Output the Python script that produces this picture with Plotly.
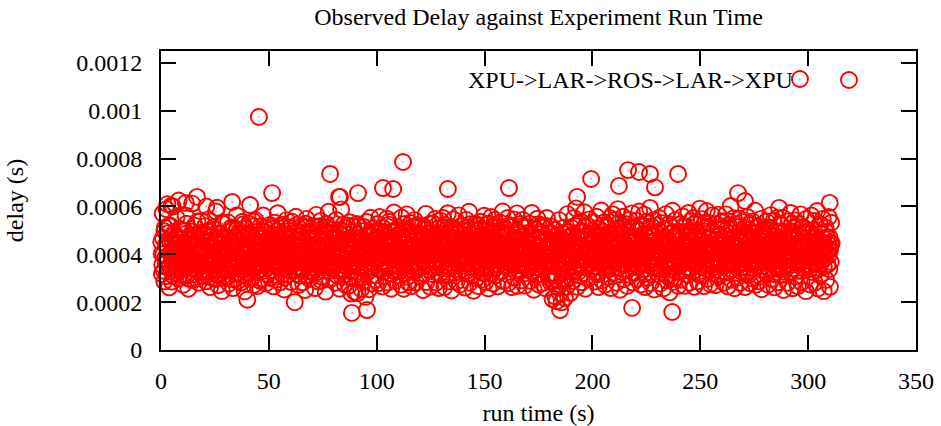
import plotly.graph_objects as go

# ---- data ----
# first pass of samples: run time (s), one row per 10 s block
run_time_s = [
    0.1,0.4,0.8,1.1,1.5,1.8,2.2,2.5,2.8,3.1,3.4,3.8,4.2,4.5,4.8,5.1,5.4,5.7,6.1,6.5,6.8,7.2,7.5,7.8,8.1,8.4,8.8,9.2,9.5,9.8,
    10.0,10.3,10.7,11.0,11.4,11.7,12.0,12.4,12.7,13.0,13.3,13.7,14.0,14.4,14.7,15.0,15.3,15.6,16.0,16.3,16.7,17.0,17.4,17.7,18.0,18.3,18.6,19.0,19.3,19.7,
    20.2,20.5,20.9,21.2,21.5,21.9,22.1,22.5,22.8,23.2,23.5,23.9,24.1,24.5,24.8,25.2,25.5,25.8,26.2,26.5,26.9,27.1,27.5,27.8,28.2,28.5,28.9,29.1,29.4,29.8,
    30.1,30.4,30.8,31.1,31.5,31.8,32.2,32.5,32.8,33.1,33.4,33.8,34.2,34.5,34.8,35.1,35.4,35.7,36.1,36.5,36.8,37.2,37.5,37.8,38.1,38.4,38.8,39.2,39.5,39.8,
    40.0,40.3,40.7,41.0,41.4,41.7,42.0,42.4,42.7,43.0,43.3,43.7,44.0,44.4,44.7,45.0,45.3,45.6,46.0,46.3,46.7,47.0,47.4,47.7,48.0,48.3,48.6,49.0,49.3,49.7,
    50.2,50.5,50.9,51.2,51.5,51.9,52.1,52.5,52.8,53.2,53.5,53.9,54.1,54.5,54.8,55.2,55.5,55.8,56.2,56.5,56.9,57.1,57.5,57.8,58.2,58.5,58.9,59.1,59.4,59.8,
    60.1,60.4,60.8,61.1,61.5,61.8,62.2,62.5,62.8,63.1,63.4,63.8,64.2,64.5,64.8,65.1,65.4,65.7,66.1,66.5,66.8,67.2,67.5,67.8,68.1,68.4,68.8,69.2,69.5,69.8,
    70.0,70.3,70.7,71.0,71.4,71.7,72.0,72.4,72.7,73.0,73.3,73.7,74.0,74.4,74.7,75.0,75.3,75.6,76.0,76.3,76.7,77.0,77.4,77.7,78.0,78.3,78.6,79.0,79.3,79.7,
    80.2,80.5,80.9,81.2,81.5,81.9,82.1,82.5,82.8,83.2,83.5,83.9,84.1,84.5,84.8,85.2,85.5,85.8,86.2,86.5,86.9,87.1,87.5,87.8,88.2,88.5,88.9,89.1,89.4,89.8,
    90.1,90.4,90.8,91.1,91.5,91.8,92.2,92.5,92.8,93.1,93.4,93.8,94.2,94.5,94.8,95.1,95.4,95.7,96.1,96.5,96.8,97.2,97.5,97.8,98.1,98.4,98.8,99.2,99.5,99.8,
    100.0,100.3,100.7,101.0,101.4,101.7,102.0,102.4,102.7,103.0,103.3,103.7,104.0,104.4,104.7,105.0,105.3,105.6,106.0,106.3,106.7,107.0,107.4,107.7,108.0,108.3,108.6,109.0,109.3,109.7,
    110.2,110.5,110.9,111.2,111.5,111.9,112.1,112.5,112.8,113.2,113.5,113.9,114.1,114.5,114.8,115.2,115.5,115.8,116.2,116.5,116.9,117.1,117.5,117.8,118.2,118.5,118.9,119.1,119.4,119.8,
    120.1,120.4,120.8,121.1,121.5,121.8,122.2,122.5,122.8,123.1,123.4,123.8,124.2,124.5,124.8,125.1,125.4,125.7,126.1,126.5,126.8,127.2,127.5,127.8,128.1,128.4,128.8,129.2,129.5,129.8,
    130.0,130.3,130.7,131.0,131.4,131.7,132.0,132.4,132.7,133.0,133.3,133.7,134.0,134.4,134.7,135.0,135.3,135.6,136.0,136.3,136.7,137.0,137.4,137.7,138.0,138.3,138.6,139.0,139.3,139.7,
    140.2,140.5,140.9,141.2,141.5,141.9,142.1,142.5,142.8,143.2,143.5,143.9,144.1,144.5,144.8,145.2,145.5,145.8,146.2,146.5,146.9,147.1,147.5,147.8,148.2,148.5,148.9,149.1,149.4,149.8,
    150.1,150.4,150.8,151.1,151.5,151.8,152.2,152.5,152.8,153.1,153.4,153.8,154.2,154.5,154.8,155.1,155.4,155.7,156.1,156.5,156.8,157.2,157.5,157.8,158.1,158.4,158.8,159.2,159.5,159.8,
    160.0,160.3,160.7,161.0,161.4,161.7,162.0,162.4,162.7,163.0,163.3,163.7,164.0,164.4,164.7,165.0,165.3,165.6,166.0,166.3,166.7,167.0,167.4,167.7,168.0,168.3,168.6,169.0,169.3,169.7,
    170.2,170.5,170.9,171.2,171.5,171.9,172.1,172.5,172.8,173.2,173.5,173.9,174.1,174.5,174.8,175.2,175.5,175.8,176.2,176.5,176.9,177.1,177.5,177.8,178.2,178.5,178.9,179.1,179.4,179.8,
    180.1,180.4,180.8,181.1,181.5,181.8,182.2,182.5,182.8,183.1,183.4,183.8,184.2,184.5,184.8,185.1,185.4,185.7,186.1,186.5,186.8,187.2,187.5,187.8,188.1,188.4,188.8,189.2,189.5,189.8,
    190.0,190.3,190.7,191.0,191.4,191.7,192.0,192.4,192.7,193.0,193.3,193.7,194.0,194.4,194.7,195.0,195.3,195.6,196.0,196.3,196.7,197.0,197.4,197.7,198.0,198.3,198.6,199.0,199.3,199.7,
    200.2,200.5,200.9,201.2,201.5,201.9,202.1,202.5,202.8,203.2,203.5,203.9,204.1,204.5,204.8,205.2,205.5,205.8,206.2,206.5,206.9,207.1,207.5,207.8,208.2,208.5,208.9,209.1,209.4,209.8,
    210.1,210.4,210.8,211.1,211.5,211.8,212.2,212.5,212.8,213.1,213.4,213.8,214.2,214.5,214.8,215.1,215.4,215.7,216.1,216.5,216.8,217.2,217.5,217.8,218.1,218.4,218.8,219.2,219.5,219.8,
    220.0,220.3,220.7,221.0,221.4,221.7,222.0,222.4,222.7,223.0,223.3,223.7,224.0,224.4,224.7,225.0,225.3,225.6,226.0,226.3,226.7,227.0,227.4,227.7,228.0,228.3,228.6,229.0,229.3,229.7,
    230.2,230.5,230.9,231.2,231.5,231.9,232.1,232.5,232.8,233.2,233.5,233.9,234.1,234.5,234.8,235.2,235.5,235.8,236.2,236.5,236.9,237.1,237.5,237.8,238.2,238.5,238.9,239.1,239.4,239.8,
    240.1,240.4,240.8,241.1,241.5,241.8,242.2,242.5,242.8,243.1,243.4,243.8,244.2,244.5,244.8,245.1,245.4,245.7,246.1,246.5,246.8,247.2,247.5,247.8,248.1,248.4,248.8,249.2,249.5,249.8,
    250.0,250.3,250.7,251.0,251.4,251.7,252.0,252.4,252.7,253.0,253.3,253.7,254.0,254.4,254.7,255.0,255.3,255.6,256.0,256.3,256.7,257.0,257.4,257.7,258.0,258.3,258.6,259.0,259.3,259.7,
    260.2,260.5,260.9,261.2,261.5,261.9,262.1,262.5,262.8,263.2,263.5,263.9,264.1,264.5,264.8,265.2,265.5,265.8,266.2,266.5,266.9,267.1,267.5,267.8,268.2,268.5,268.9,269.1,269.4,269.8,
    270.1,270.4,270.8,271.1,271.5,271.8,272.2,272.5,272.8,273.1,273.4,273.8,274.2,274.5,274.8,275.1,275.4,275.7,276.1,276.5,276.8,277.2,277.5,277.8,278.1,278.4,278.8,279.2,279.5,279.8,
    280.0,280.3,280.7,281.0,281.4,281.7,282.0,282.4,282.7,283.0,283.3,283.7,284.0,284.4,284.7,285.0,285.3,285.6,286.0,286.3,286.7,287.0,287.4,287.7,288.0,288.3,288.6,289.0,289.3,289.7,
    290.2,290.5,290.9,291.2,291.5,291.9,292.1,292.5,292.8,293.2,293.5,293.9,294.1,294.5,294.8,295.2,295.5,295.8,296.2,296.5,296.9,297.1,297.5,297.8,298.2,298.5,298.9,299.1,299.4,299.8,
    300.1,300.4,300.8,301.1,301.5,301.8,302.2,302.5,302.8,303.1,303.4,303.8,304.2,304.5,304.8,305.1,305.4,305.7,306.1,306.5,306.8,307.2,307.5,307.8,308.1,308.4,308.8,309.2,309.5,309.8,310.1,310.4,310.7,
]

# first pass of samples: observed delay (microseconds), same order
delay_us = [
    452,318,571,401,287,512,366,589,430,344,489,262,521,407,603,375,458,311,479,392,447,553,336,470,298,415,418,355,502,388,
    421,273,497,348,562,405,312,459,256,473,384,441,295,612,367,478,294,520,398,336,339,462,281,445,414,357,540,433,309,486,
    372,518,287,446,401,546,329,475,263,392,438,355,427,301,503,384,579,316,448,271,421,406,343,484,246,529,397,452,301,426,
    466,304,412,533,278,381,497,342,459,437,259,511,386,459,318,562,403,289,488,361,434,282,425,536,338,471,245,415,507,323,
    383,342,528,441,366,297,462,354,517,272,409,543,326,494,267,437,369,451,289,418,476,298,562,395,332,509,278,453,401,371,
    428,523,301,487,359,454,266,413,532,378,294,468,572,341,439,283,517,402,316,474,447,253,496,368,543,315,421,391,352,477,
    389,284,536,445,336,501,362,557,318,427,479,272,453,396,337,464,521,283,418,512,251,375,548,436,309,492,297,441,403,346,
    471,326,518,394,259,442,565,357,513,286,419,376,539,291,483,404,497,331,456,244,527,388,349,578,433,295,502,365,447,411,
    358,496,281,544,413,332,467,449,256,384,588,305,461,522,379,274,437,511,318,405,482,269,534,353,236,427,298,516,372,243,
    452,301,527,238,396,519,344,471,255,462,413,287,498,366,222,441,535,324,479,254,402,553,351,278,446,509,381,493,293,427,
    384,527,279,443,556,336,478,412,265,451,367,492,308,437,549,282,416,524,353,461,256,497,398,331,575,456,289,503,374,433,
    512,347,428,273,554,395,471,256,506,318,452,567,379,283,499,421,355,531,267,406,488,329,543,394,282,468,522,341,415,517,
    306,459,375,518,251,437,513,362,569,284,421,488,337,527,264,403,476,318,529,441,383,548,282,456,349,507,259,432,541,364,
    447,311,552,396,263,523,418,479,339,572,287,445,366,511,249,487,402,546,323,468,501,286,412,357,563,441,274,518,381,452,
    363,498,261,436,544,319,467,392,578,281,414,507,346,459,248,503,386,528,301,442,519,267,473,367,536,424,294,482,338,561,
    419,284,523,376,461,257,528,403,339,556,452,278,487,361,544,312,438,509,266,427,392,533,327,481,415,579,288,446,357,501,
    486,351,552,279,428,397,387,514,263,455,373,546,302,469,419,571,268,492,336,443,527,291,405,544,364,438,269,512,381,463,
    337,472,528,289,416,573,354,441,252,507,389,466,314,549,427,273,495,372,521,408,279,452,347,521,258,433,552,366,487,302,
    421,286,517,372,213,448,318,503,224,396,204,462,261,543,347,236,419,199,488,302,511,217,376,445,265,568,338,474,392,239,
    513,367,446,288,552,403,331,592,467,264,528,389,437,312,536,283,491,418,349,576,256,472,383,519,297,444,546,358,412,487,
    341,534,286,469,398,557,318,452,263,506,427,368,583,291,478,412,534,273,439,376,521,305,491,348,552,259,436,405,567,322,
    462,387,543,281,436,589,344,507,252,418,482,357,557,296,449,513,403,526,268,471,378,544,313,456,405,571,282,437,365,512,
    398,541,296,467,352,579,423,274,518,391,447,336,566,263,479,412,536,301,438,372,594,279,495,415,347,543,253,456,388,521,
    446,317,552,403,278,531,384,469,257,508,426,357,568,291,452,398,527,241,418,336,489,582,285,437,374,543,304,481,412,268,
    379,524,293,461,407,558,336,447,268,516,392,472,314,573,427,281,538,381,456,329,552,264,418,497,362,535,287,439,403,591,
    452,311,547,389,476,267,532,418,354,581,297,463,401,529,276,437,382,563,323,495,413,271,527,372,446,566,308,481,357,534,
    403,538,281,446,372,567,324,489,266,523,417,365,602,294,468,396,551,258,441,386,514,302,467,428,549,281,452,346,536,413,
    367,512,263,463,395,556,312,448,529,279,431,374,537,298,486,409,582,273,442,351,519,287,474,406,548,254,451,382,503,337,
    481,326,537,404,273,513,378,452,564,297,436,369,541,262,477,415,346,552,283,463,398,527,314,445,387,553,251,492,356,428,
    414,281,538,386,462,573,329,497,258,443,375,542,307,481,419,267,526,364,449,567,283,437,398,513,342,469,246,548,392,455,
    357,498,274,441,562,326,473,392,539,281,418,365,581,257,456,403,527,312,487,374,548,246,443,398,512,293,469,421,556,338,264,448,532,
]

# second pass of samples (interleaved in time): run time (s)
run_time_2_s = [
    0.3,0.6,0.9,1.3,1.6,2.0,2.3,2.6,2.9,3.3,3.6,4.0,4.3,4.6,5.0,5.3,5.6,6.0,6.3,6.6,7.0,7.3,7.6,8.0,8.3,8.6,9.0,9.3,9.6,9.9,
    10.2,10.5,10.9,11.2,11.5,11.9,12.2,12.6,12.9,13.2,13.5,13.9,14.2,14.6,14.9,15.2,15.6,15.9,16.2,16.5,16.9,17.2,17.6,17.9,18.2,18.5,18.9,19.2,19.6,19.9,
    20.3,20.6,20.9,21.3,21.6,22.0,22.3,22.6,22.9,23.3,23.6,24.0,24.3,24.6,25.0,25.3,25.6,26.0,26.3,26.6,27.0,27.3,27.6,28.0,28.3,28.6,29.0,29.3,29.6,29.9,
    30.2,30.5,30.9,31.2,31.5,31.9,32.2,32.6,32.9,33.2,33.5,33.9,34.2,34.6,34.9,35.2,35.6,35.9,36.2,36.5,36.9,37.2,37.6,37.9,38.2,38.5,38.9,39.2,39.6,39.9,
    40.3,40.6,40.9,41.3,41.6,42.0,42.3,42.6,42.9,43.3,43.6,44.0,44.3,44.6,45.0,45.3,45.6,46.0,46.3,46.6,47.0,47.3,47.6,48.0,48.3,48.6,49.0,49.3,49.6,49.9,
    50.2,50.5,50.9,51.2,51.5,51.9,52.2,52.6,52.9,53.2,53.5,53.9,54.2,54.6,54.9,55.2,55.6,55.9,56.2,56.5,56.9,57.2,57.6,57.9,58.2,58.5,58.9,59.2,59.6,59.9,
    60.3,60.6,60.9,61.3,61.6,62.0,62.3,62.6,62.9,63.3,63.6,64.0,64.3,64.6,65.0,65.3,65.6,66.0,66.3,66.6,67.0,67.3,67.6,68.0,68.3,68.6,69.0,69.3,69.6,69.9,
    70.2,70.5,70.9,71.2,71.5,71.9,72.2,72.6,72.9,73.2,73.5,73.9,74.2,74.6,74.9,75.2,75.6,75.9,76.2,76.5,76.9,77.2,77.6,77.9,78.2,78.5,78.9,79.2,79.6,79.9,
    80.3,80.6,80.9,81.3,81.6,82.0,82.3,82.6,82.9,83.3,83.6,84.0,84.3,84.6,85.0,85.3,85.6,86.0,86.3,86.6,87.0,87.3,87.6,88.0,88.3,88.6,89.0,89.3,89.6,89.9,
    90.2,90.5,90.9,91.2,91.5,91.9,92.2,92.6,92.9,93.2,93.5,93.9,94.2,94.6,94.9,95.2,95.6,95.9,96.2,96.5,96.9,97.2,97.6,97.9,98.2,98.5,98.9,99.2,99.6,99.9,
    100.3,100.6,100.9,101.3,101.6,102.0,102.3,102.6,102.9,103.3,103.6,104.0,104.3,104.6,105.0,105.3,105.6,106.0,106.3,106.6,107.0,107.3,107.6,108.0,108.3,108.6,109.0,109.3,109.6,109.9,
    110.2,110.5,110.9,111.2,111.5,111.9,112.2,112.6,112.9,113.2,113.5,113.9,114.2,114.6,114.9,115.2,115.6,115.9,116.2,116.5,116.9,117.2,117.6,117.9,118.2,118.5,118.9,119.2,119.6,119.9,
    120.3,120.6,120.9,121.3,121.6,122.0,122.3,122.6,122.9,123.3,123.6,124.0,124.3,124.6,125.0,125.3,125.6,126.0,126.3,126.6,127.0,127.3,127.6,128.0,128.3,128.6,129.0,129.3,129.6,129.9,
    130.2,130.5,130.9,131.2,131.5,131.9,132.2,132.6,132.9,133.2,133.5,133.9,134.2,134.6,134.9,135.2,135.6,135.9,136.2,136.5,136.9,137.2,137.6,137.9,138.2,138.5,138.9,139.2,139.6,139.9,
    140.3,140.6,140.9,141.3,141.6,142.0,142.3,142.6,142.9,143.3,143.6,144.0,144.3,144.6,145.0,145.3,145.6,146.0,146.3,146.6,147.0,147.3,147.6,148.0,148.3,148.6,149.0,149.3,149.6,149.9,
    150.2,150.5,150.9,151.2,151.5,151.9,152.2,152.6,152.9,153.2,153.5,153.9,154.2,154.6,154.9,155.2,155.6,155.9,156.2,156.5,156.9,157.2,157.6,157.9,158.2,158.5,158.9,159.2,159.6,159.9,
    160.3,160.6,160.9,161.3,161.6,162.0,162.3,162.6,162.9,163.3,163.6,164.0,164.3,164.6,165.0,165.3,165.6,166.0,166.3,166.6,167.0,167.3,167.6,168.0,168.3,168.6,169.0,169.3,169.6,169.9,
    170.2,170.5,170.9,171.2,171.5,171.9,172.2,172.6,172.9,173.2,173.5,173.9,174.2,174.6,174.9,175.2,175.6,175.9,176.2,176.5,176.9,177.2,177.6,177.9,178.2,178.5,178.9,179.2,179.6,179.9,
    180.3,180.6,180.9,181.3,181.6,182.0,182.3,182.6,182.9,183.3,183.6,184.0,184.3,184.6,185.0,185.3,185.6,186.0,186.3,186.6,187.0,187.3,187.6,188.0,188.3,188.6,189.0,189.3,189.6,189.9,
    190.2,190.5,190.9,191.2,191.5,191.9,192.2,192.6,192.9,193.2,193.5,193.9,194.2,194.6,194.9,195.2,195.6,195.9,196.2,196.5,196.9,197.2,197.6,197.9,198.2,198.5,198.9,199.2,199.6,199.9,
    200.3,200.6,200.9,201.3,201.6,202.0,202.3,202.6,202.9,203.3,203.6,204.0,204.3,204.6,205.0,205.3,205.6,206.0,206.3,206.6,207.0,207.3,207.6,208.0,208.3,208.6,209.0,209.3,209.6,209.9,
    210.2,210.5,210.9,211.2,211.5,211.9,212.2,212.6,212.9,213.2,213.5,213.9,214.2,214.6,214.9,215.2,215.6,215.9,216.2,216.5,216.9,217.2,217.6,217.9,218.2,218.5,218.9,219.2,219.6,219.9,
    220.3,220.6,220.9,221.3,221.6,222.0,222.3,222.6,222.9,223.3,223.6,224.0,224.3,224.6,225.0,225.3,225.6,226.0,226.3,226.6,227.0,227.3,227.6,228.0,228.3,228.6,229.0,229.3,229.6,229.9,
    230.2,230.5,230.9,231.2,231.5,231.9,232.2,232.6,232.9,233.2,233.5,233.9,234.2,234.6,234.9,235.2,235.6,235.9,236.2,236.5,236.9,237.2,237.6,237.9,238.2,238.5,238.9,239.2,239.6,239.9,
    240.3,240.6,240.9,241.3,241.6,242.0,242.3,242.6,242.9,243.3,243.6,244.0,244.3,244.6,245.0,245.3,245.6,246.0,246.3,246.6,247.0,247.3,247.6,248.0,248.3,248.6,249.0,249.3,249.6,249.9,
    250.2,250.5,250.9,251.2,251.5,251.9,252.2,252.6,252.9,253.2,253.5,253.9,254.2,254.6,254.9,255.2,255.6,255.9,256.2,256.5,256.9,257.2,257.6,257.9,258.2,258.5,258.9,259.2,259.6,259.9,
    260.3,260.6,260.9,261.3,261.6,262.0,262.3,262.6,262.9,263.3,263.6,264.0,264.3,264.6,265.0,265.3,265.6,266.0,266.3,266.6,267.0,267.3,267.6,268.0,268.3,268.6,269.0,269.3,269.6,269.9,
    270.2,270.5,270.9,271.2,271.5,271.9,272.2,272.6,272.9,273.2,273.5,273.9,274.2,274.6,274.9,275.2,275.6,275.9,276.2,276.5,276.9,277.2,277.6,277.9,278.2,278.5,278.9,279.2,279.6,279.9,
    280.3,280.6,280.9,281.3,281.6,282.0,282.3,282.6,282.9,283.3,283.6,284.0,284.3,284.6,285.0,285.3,285.6,286.0,286.3,286.6,287.0,287.3,287.6,288.0,288.3,288.6,289.0,289.3,289.6,289.9,
    290.2,290.5,290.9,291.2,291.5,291.9,292.2,292.6,292.9,293.2,293.5,293.9,294.2,294.6,294.9,295.2,295.6,295.9,296.2,296.5,296.9,297.2,297.6,297.9,298.2,298.5,298.9,299.2,299.6,299.9,
    300.3,300.6,300.9,301.3,301.6,302.0,302.3,302.6,302.9,303.3,303.6,304.0,304.3,304.6,305.0,305.3,305.6,306.0,306.3,306.6,307.0,307.3,307.6,308.0,308.3,308.6,309.0,309.3,309.6,309.9,310.2,310.5,310.9,
]

# second pass of samples: observed delay (microseconds), same order
delay_2_us = [
    402,356,468,331,497,384,441,309,426,372,518,348,455,397,286,436,365,489,415,338,472,394,322,451,379,506,427,344,463,391,
    437,312,485,366,419,528,353,447,298,404,376,462,341,495,388,429,317,474,356,412,537,383,446,326,468,401,358,492,335,421,
    389,454,327,412,496,368,437,305,471,352,421,388,512,339,446,379,297,463,408,354,489,426,317,445,382,531,361,418,473,346,
    418,367,493,332,446,401,358,512,384,427,296,468,351,439,382,505,324,457,413,369,481,337,432,398,526,356,445,311,479,405,
    352,429,488,371,412,306,463,395,537,342,418,381,472,327,449,403,361,516,388,435,298,467,354,421,492,376,443,318,405,459,
    397,462,334,425,506,371,448,313,479,389,432,355,497,408,341,468,386,524,359,416,447,302,473,395,338,454,421,367,512,383,
    446,352,419,487,331,406,462,378,523,349,434,396,311,475,418,366,491,339,447,403,528,372,426,354,469,387,442,327,498,414,
    382,437,502,347,418,369,476,326,443,391,518,358,427,306,465,401,345,492,378,434,357,511,396,442,331,473,405,368,487,423,
    425,358,471,396,312,448,381,503,339,427,389,462,354,496,414,331,458,377,521,346,432,399,307,468,383,441,351,492,417,366,
    371,446,398,327,483,415,352,461,389,302,437,378,514,343,426,398,361,478,331,452,407,366,493,424,348,437,384,312,469,403,
    458,376,423,341,497,386,432,364,511,327,448,396,473,352,414,387,536,349,428,402,318,466,381,445,357,492,411,338,475,396,
    392,463,331,427,488,359,416,384,527,348,441,372,306,459,403,367,494,422,336,451,389,517,361,434,397,478,342,426,386,453,
    416,349,483,397,442,321,468,389,503,357,428,395,461,334,487,412,372,529,346,438,401,367,482,423,351,446,398,318,474,408,
    369,437,512,352,429,394,467,316,453,401,378,498,343,426,391,472,357,508,413,339,448,386,463,327,491,418,365,437,402,352,
    442,381,467,329,415,498,364,433,387,526,351,446,403,312,479,426,368,451,395,337,488,414,373,505,346,431,392,457,321,468,
    387,452,341,426,503,368,437,392,471,317,448,383,516,356,423,401,346,487,412,373,453,327,496,419,365,441,388,512,352,429,
    411,368,479,342,436,392,521,357,448,386,303,467,413,376,498,339,427,402,461,354,517,386,432,319,473,407,362,488,421,348,
    456,392,423,351,487,376,441,328,502,368,417,463,346,398,526,381,434,317,471,402,358,449,386,512,343,428,396,465,372,438,
    372,431,318,457,289,403,352,476,297,421,312,448,368,398,275,437,341,296,462,383,418,287,451,364,329,493,392,351,426,304,
    427,389,481,346,436,402,518,362,445,391,327,472,413,358,497,382,431,346,466,407,374,523,359,441,396,478,337,425,388,461,
    398,462,351,427,384,509,367,441,318,476,402,433,356,495,381,424,347,468,392,513,337,446,408,371,487,352,429,396,462,378,
    423,368,486,341,452,396,531,372,438,405,327,468,389,442,356,502,416,383,459,337,478,401,426,362,514,387,449,321,473,405,
    457,382,429,346,498,371,443,406,362,521,388,437,319,472,401,358,486,427,372,447,393,518,346,432,406,369,491,352,438,417,
    384,446,359,497,412,337,463,392,428,351,506,377,439,312,468,405,383,452,296,427,361,493,418,348,472,397,436,326,487,409,
    432,371,486,357,442,403,519,366,431,392,478,341,455,387,417,338,493,406,364,447,379,526,352,434,401,466,318,451,389,428,
    391,458,346,423,497,368,441,382,512,337,429,396,468,353,437,408,372,491,346,426,461,389,317,479,413,356,445,398,503,371,
    447,386,412,353,479,398,433,361,508,374,422,446,339,487,405,368,452,391,526,347,433,412,376,491,359,428,397,462,324,481,
    406,363,472,394,438,327,501,376,419,452,358,486,413,342,467,398,431,371,513,352,446,389,423,307,478,401,365,492,418,386,
    373,441,398,487,346,423,509,367,432,392,461,318,478,405,386,452,339,496,417,374,438,357,521,396,442,327,469,411,383,452,
    438,376,493,352,417,463,389,528,341,426,397,472,363,445,408,331,487,392,451,376,512,343,429,401,466,357,438,382,497,411,
    396,452,341,487,418,372,446,503,359,427,391,472,336,448,412,381,519,364,437,402,467,348,429,386,493,411,357,442,398,471,421,368,446,
]

# isolated points standing out from the main band
outlier_time_s = [45.4, 296.2, 78.4, 112.2, 102.9, 107.6, 133.0, 83.0, 91.3, 199.4,
                  216.5, 221.6, 226.7, 229.0, 212.3, 239.7, 161.3, 192.9, 267.5, 270.7,
                  310.0, 286.5, 88.5, 95.5, 237.0, 218.4, 185.0, 33.0, 41.3, 16.7,
                  51.5, 82.5, 62.0, 40.0, 3.0, 5.5, 8.2, 11.5, 21.0, 26.0]
outlier_delay_us = [974, 1133, 736, 786, 677, 673, 673, 640, 656, 715,
                    752, 744, 736, 680, 686, 736, 677, 640, 656, 623,
                    615, 594, 155, 167, 159, 176, 167, 619, 606, 640,
                    656, 640, 200, 210, 610, 600, 625, 615, 600, 595]

series_name = "XPU->LAR->ROS->LAR->XPU"
x_ticks = [0, 50, 100, 150, 200, 250, 300, 350]
y_ticks = [0, 0.0002, 0.0004, 0.0006, 0.0008, 0.001, 0.0012]
y_tick_labels = ["0", "0.0002", "0.0004", "0.0006", "0.0008", "0.001", "0.0012"]

n1 = min(len(run_time_s), len(delay_us))
n2 = min(len(run_time_2_s), len(delay_2_us))
xs = run_time_s[:n1] + run_time_2_s[:n2] + outlier_time_s
ys = ([v * 1e-6 for v in delay_us[:n1]] + [v * 1e-6 for v in delay_2_us[:n2]]
      + [v * 1e-6 for v in outlier_delay_us])

RED = "rgb(255,0,0)"
FONT = "Liberation Serif, Times New Roman, serif"

fig = go.Figure()
fig.add_trace(go.Scatter(
    x=xs, y=ys, mode="markers", name=series_name, cliponaxis=False,
    marker=dict(symbol="circle-open", size=16, color=RED, line=dict(width=1.9, color=RED)),
))
fig.add_trace(go.Scatter(
    x=xs, y=ys, mode="markers", showlegend=False, cliponaxis=False, hoverinfo="skip",
    marker=dict(symbol="circle", size=1.5, color=RED, opacity=0.6),
))

axis_common = dict(
    showline=True, linewidth=2, linecolor="black", mirror="ticks",
    ticks="inside", ticklen=15, tickwidth=2, tickcolor="black",
    showgrid=False, zeroline=False, automargin=False,
    tickfont=dict(family=FONT, size=24, color="black"),
)

fig.update_layout(
    width=941, height=426,
    margin=dict(l=161, r=25, t=51, b=76, autoexpand=False),
    paper_bgcolor="white", plot_bgcolor="white",
    font=dict(family=FONT, size=24, color="black"),
    showlegend=False,
    title=dict(text="Observed Delay against Experiment Run Time", xref="paper", x=0.5,
               xanchor="center", yref="container", y=1 - 17 / 426, yanchor="middle",
               font=dict(family=FONT, size=24, color="black")),
    xaxis=dict(range=[0, 350], tickvals=x_ticks, ticklabelstandoff=8,
               title=dict(text="run time (s)", standoff=14,
                          font=dict(family=FONT, size=24, color="black")),
               **axis_common),
    yaxis=dict(range=[0, 0.00125], tickvals=y_ticks, ticktext=y_tick_labels, ticklabelstandoff=12,
               title=dict(text="delay (s)", standoff=46,
                          font=dict(family=FONT, size=24, color="black")),
               **axis_common),
)

# legend key (gnuplot style: text then sample point)
fig.add_annotation(text=series_name, xref="paper", yref="paper", x=(795 - 161) / 755, y=(350 - 80) / 299,
                   xanchor="right", yanchor="middle", showarrow=False,
                   font=dict(family=FONT, size=24, color="black"))
fig.add_shape(type="circle", xref="paper", yref="paper", xsizemode="pixel", ysizemode="pixel",
              xanchor=(849 - 161) / 755, yanchor=(350 - 80) / 299, x0=-8, x1=8, y0=-8, y1=8,
              line=dict(color=RED, width=1.9))

fig.write_html("out.html", config={"displayModeBar": False},
               post_script="document.body.style.margin='0';document.body.style.padding='0';")
